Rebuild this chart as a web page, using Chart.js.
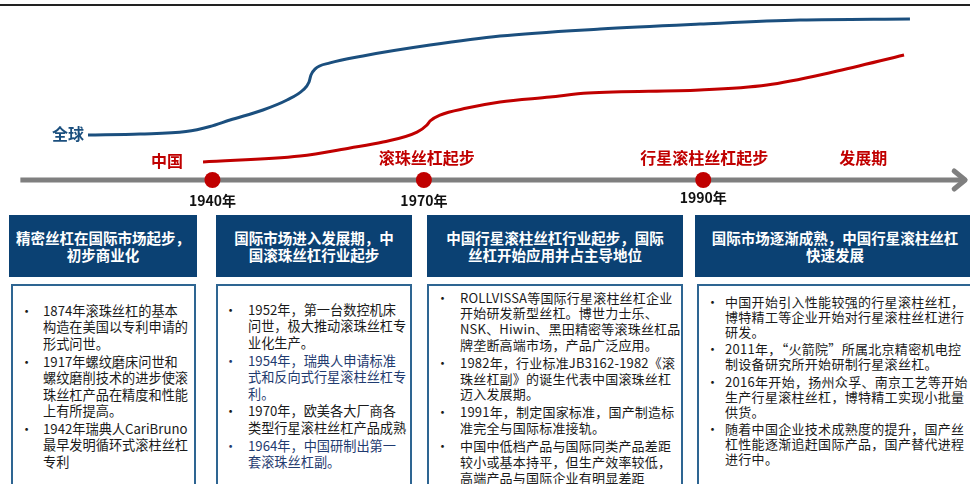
<!DOCTYPE html>
<html>
<head>
<meta charset="utf-8">
<script src="https://cdn.jsdelivr.net/npm/chart.js@4"></script>
<style>
  html, body { margin: 0; padding: 0; background: #fff; }
  body { width: 970px; height: 484px; overflow: hidden; position: relative;
         font-family: "Noto Sans CJK SC", "Noto Sans", sans-serif; }
  #rule { position: absolute; left: 0; top: 4px; width: 970px; height: 1.5px; background: #222; }
  #wrap { position: absolute; left: 0; top: 0; width: 970px; height: 215px; }
  .head { position: absolute; top: 215px; height: 62px; background: #0b4173; color: #fff;
          font-weight: bold; font-size: 14.5px; line-height: 17px; text-align: center;
          display: flex; align-items: center; justify-content: center; white-space: nowrap; }
  .body { position: absolute; top: 284px; height: 230px; box-sizing: border-box;
          border: 2px solid #2e6592; background: #fff; color: #1a1a1a; white-space: nowrap; }
  .item { position: relative; }
  .dot { position: absolute; top: 0; }
</style>
</head>
<body>
<div id="rule"></div>
<div id="wrap"><canvas id="timeline" width="970" height="215"></canvas></div>
<div id="boxes"></div>
<script>
// curve data (x: timeline position 0-100, y: development level, 0 = timeline)
const globalX = [9.07, 14.43, 19.18, 21.65, 23.71, 27.11, 29.59, 31.24, 31.86, 32.06, 32.47, 34.02, 37.42, 44.33, 51.55, 61.86, 72.16, 82.47, 93.81];
const globalY = [25.7, 26.3, 27.7, 30.6, 34.3, 40.0, 45.7, 51.4, 56.0, 60.0, 63.4, 66.9, 70.9, 77.1, 82.3, 86.3, 89.1, 91.4, 92.0];
const chinaX = [20.93, 30.93, 36.08, 39.48, 42.99, 44.02, 44.33, 45.36, 48.14, 51.55, 56.70, 60.62, 72.16, 79.07, 85.88, 93.2];
const chinaY = [10.3, 13.7, 18.3, 21.7, 27.4, 31.4, 33.7, 37.1, 41.1, 44.6, 47.4, 49.7, 51.4, 54.3, 61.7, 71.4];

// timeline
const axisX = [2.1, 99.5];
const milestoneX = [21.9, 43.7, 72.5];
const yearLabels = ['1940年', '1970年', '1990年'];
const stageNames = ['滚珠丝杠起步', '行星滚柱丝杠起步', '发展期'];
const stageX = [44.0, 72.6, 89.0];
const seriesNames = ['全球', '中国'];

// period boxes
const headers = [
  ['精密丝杠在国际市场起步，', '初步商业化'],
  ['国际市场进入发展期，中', '国滚珠丝杠行业起步'],
  ['中国行星滚柱丝杠行业起步，国际', '丝杠开始应用并占主导地位'],
  ['国际市场逐渐成熟，中国行星滚柱丝杠', '快速发展']
];
const items = [
  [
    ['1874年滚珠丝杠的基本', '构造在美国以专利申请的', '形式问世。'],
    ['1917年螺纹磨床问世和', '螺纹磨削技术的进步使滚', '珠丝杠产品在精度和性能', '上有所提高。'],
    ['1942年瑞典人CariBruno', '最早发明循环式滚柱丝杠', '专利']
  ],
  [
    ['1952年，第一台数控机床', '问世，极大推动滚珠丝杠专', '业化生产。'],
    ['1954年，瑞典人申请标准', '式和反向式行星滚柱丝杠专', '利。'],
    ['1970年，欧美各大厂商各', '类型行星滚柱丝杠产品成熟'],
    ['1964年，中国研制出第一', '套滚珠丝杠副。']
  ],
  [
    ['ROLLVISSA等国际行星滚柱丝杠企业', '开始研发新型丝杠。博世力士乐、', 'NSK、Hiwin、黑田精密等滚珠丝杠品', '牌垄断高端市场，产品广泛应用。'],
    ['1982年，行业标准JB3162-1982《滚', '珠丝杠副》的诞生代表中国滚珠丝杠', '迈入发展期。'],
    ['1991年，制定国家标准，国产制造标', '准完全与国际标准接轨。'],
    ['中国中低档产品与国际同类产品差距', '较小或基本持平，但生产效率较低，', '高端产品与国际企业有明显差距']
  ],
  [
    ['中国开始引入性能较强的行星滚柱丝杠，', '博特精工等企业开始对行星滚柱丝杠进行', '研发。'],
    ['2011年，“火箭院”所属北京精密机电控', '制设备研究所开始研制行星滚丝杠。'],
    ['2016年开始，扬州众孚、南京工艺等开始', '生产行星滚柱丝杠，博特精工实现小批量', '供货。'],
    ['随着中国企业技术成熟度的提升，国产丝', '杠性能逐渐追赶国际产品，国产替代进程', '进行中。']
  ]
];
const blueItems = [[], [1, 3], [], []];

// box layout
const headPos = [[9, 188], [216, 196], [427, 256], [695, 280]];
const bodyPos = [[11, 185], [216, 196], [427, 256], [697, 280]];
const bodyStyle = [
  { pad: 17, lh: 16.4, gap: 1.5, fs: 13.2, ls: 0, dot: 9, text: 32 },
  { pad: 16, lh: 16.4, gap: 1.5, fs: 13.2, ls: 0, dot: 8, text: 32 },
  { pad: 3.5, lh: 15.7, gap: 2.5, fs: 13, ls: 0.2, dot: 9, text: 33 },
  { pad: 9, lh: 14.8, gap: 3, fs: 13, ls: 0.3, dot: 9, text: 28 }
];

const boxes = document.getElementById('boxes');
headers.forEach((h, i) => {
  const d = document.createElement('div');
  d.className = 'head';
  d.style.left = headPos[i][0] + 'px';
  d.style.width = headPos[i][1] + 'px';
  d.innerHTML = '<div>' + h.join('<br>') + '</div>';
  boxes.appendChild(d);

  const s = bodyStyle[i];
  const b = document.createElement('div');
  b.className = 'body';
  b.style.left = bodyPos[i][0] + 'px';
  b.style.width = bodyPos[i][1] + 'px';
  b.style.paddingTop = s.pad + 'px';
  b.style.fontSize = s.fs + 'px';
  b.style.lineHeight = s.lh + 'px';
  b.style.letterSpacing = s.ls + 'px';
  items[i].forEach((lines, k) => {
    const it = document.createElement('div');
    it.className = 'item';
    it.style.paddingLeft = (s.text - 2) + 'px';
    it.style.marginBottom = s.gap + 'px';
    if (blueItems[i].includes(k)) it.style.color = '#1f3b70';
    it.innerHTML = '<span class="dot" style="left:' + (s.dot - 2) + 'px">•</span>' + lines.join('<br>');
    b.appendChild(it);
  });
  boxes.appendChild(b);
});

// text and arrow drawn on top of the chart
const labelPlugin = {
  id: 'labels',
  afterDatasetsDraw(chart) {
    const ctx = chart.ctx;
    const xs = chart.scales.x, ys = chart.scales.y;
    const y0 = ys.getPixelForValue(0);
    ctx.save();
    // arrow head
    const ex = xs.getPixelForValue(axisX[1]);
    ctx.strokeStyle = '#7f7f7f';
    ctx.lineWidth = 5;
    ctx.lineCap = 'round';
    ctx.lineJoin = 'round';
    ctx.beginPath();
    ctx.moveTo(ex - 11, y0 - 9);
    ctx.lineTo(ex, y0);
    ctx.lineTo(ex - 11, y0 + 9);
    ctx.stroke();

    ctx.textAlign = 'center';
    ctx.textBaseline = 'middle';
    ctx.fillStyle = '#111';
    ctx.font = 'bold 14px "Noto Sans CJK SC"';
    milestoneX.forEach((x, i) => {
      ctx.fillText(yearLabels[i], xs.getPixelForValue(x), y0 + (i === 2 ? 18 : 21));
    });

    ctx.fillStyle = '#c00000';
    ctx.font = 'bold 16px "Noto Sans CJK SC"';
    stageX.forEach((x, i) => {
      ctx.fillText(stageNames[i], xs.getPixelForValue(x), y0 - 22);
    });

    ctx.textAlign = 'right';
    ctx.fillStyle = '#1b4f7e';
    ctx.fillText(seriesNames[0], xs.getPixelForValue(globalX[0]) - 4, ys.getPixelForValue(globalY[0]) - 1);
    ctx.fillStyle = '#c00000';
    ctx.fillText(seriesNames[1], xs.getPixelForValue(chinaX[0]) - 20, ys.getPixelForValue(chinaY[0]) - 1);
    ctx.restore();
  }
};

new Chart(document.getElementById('timeline').getContext('2d'), {
  type: 'line',
  data: {
    datasets: [
      {
        label: '里程碑',
        data: milestoneX.map(x => ({ x: x, y: 0 })),
        showLine: false,
        pointRadius: 8,
        pointBackgroundColor: '#c00000',
        pointBorderWidth: 0,
        order: 0
      },
      {
        label: '时间轴',
        data: axisX.map(x => ({ x: x, y: 0 })),
        borderColor: '#7f7f7f',
        borderWidth: 5,
        pointRadius: 0,
        order: 1
      },
      {
        label: seriesNames[0],
        data: globalX.map((x, i) => ({ x: x, y: globalY[i] })),
        borderColor: '#1b4f7e',
        borderWidth: 3,
        pointRadius: 0,
        cubicInterpolationMode: 'monotone',
        order: 2
      },
      {
        label: seriesNames[1],
        data: chinaX.map((x, i) => ({ x: x, y: chinaY[i] })),
        borderColor: '#c00000',
        borderWidth: 3,
        pointRadius: 0,
        cubicInterpolationMode: 'monotone',
        order: 2
      }
    ]
  },
  options: {
    responsive: false,
    animation: false,
    clip: false,
    layout: { autoPadding: false, padding: { top: 5, left: 0, right: 0, bottom: 0 } },
    plugins: { legend: { display: false }, tooltip: { enabled: false } },
    scales: {
      x: { type: 'linear', min: 0, max: 100, display: false },
      y: { type: 'linear', min: -20, max: 100, display: false }
    }
  },
  plugins: [labelPlugin]
});
</script>
</body>
</html>
